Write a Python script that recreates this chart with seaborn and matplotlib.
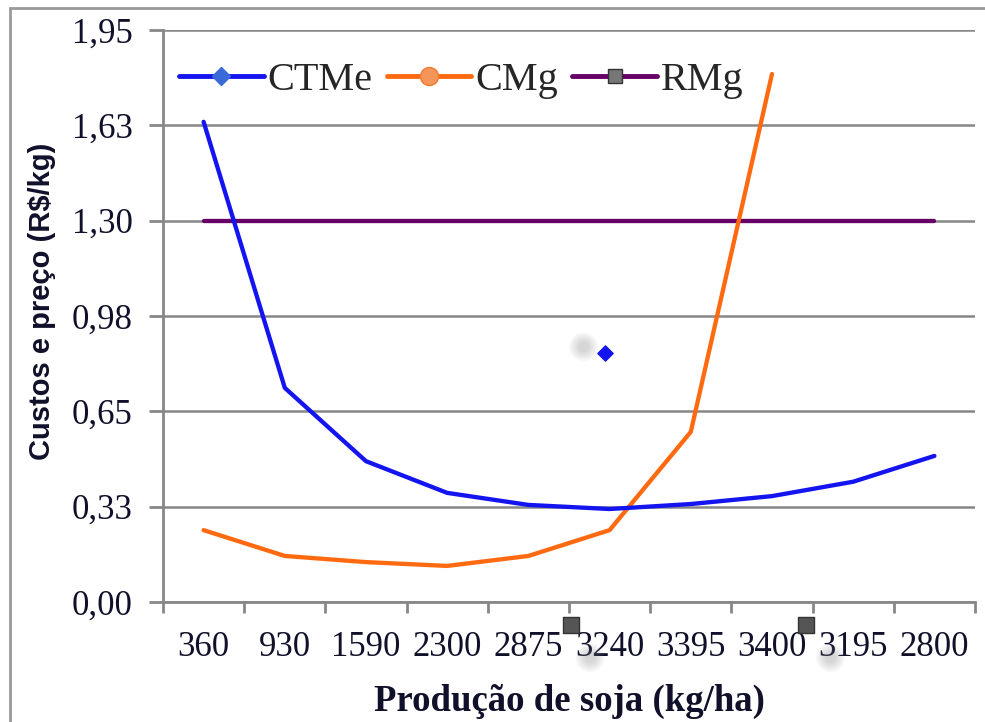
import numpy as np
import pandas as pd
import matplotlib
matplotlib.use("Agg")
import matplotlib.pyplot as plt
import seaborn as sns
from matplotlib.lines import Line2D
from matplotlib.patches import Rectangle

categories = ["360", "930", "1590", "2300", "2875", "3240", "3395", "3400", "3195", "2800"]
ctme = [1.637, 0.73, 0.48, 0.372, 0.331, 0.317, 0.334, 0.361, 0.41, 0.498]
cmg = [0.245, 0.157, 0.136, 0.123, 0.157, 0.245, 0.58, 1.80]
rmg = [1.30] * 10
ytick_vals = [0.0, 0.325, 0.65, 0.975, 1.30, 1.625, 1.95]
ytick_labels = ["0,00", "0,33", "0,65", "0,98", "1,30", "1,63", "1,95"]
# stray marker artefacts in the original image
stray_diamond_x = [4.94]
stray_diamond_y = [0.85]
stray_square_x = [4.52, 7.42]
stray_square_y = [-0.078, -0.078]
stray_blur_x = [4.68, 4.76, 7.72]
stray_blur_y = [0.87, -0.19, -0.19]

sns.set_theme(style="white")
plt.rcParams['font.family'] = ['Liberation Serif', 'DejaVu Serif']

c_blue = "#1414F0"
c_orange = "#FF6A10"
c_purple = "#660066"
grey = "#878787"
txt = "#10102a"

fig = plt.figure(figsize=(9.85, 7.22), dpi=100)
ax = fig.add_axes([163/985, 1-602/722, (975-163)/985, (602-30)/722])

df = pd.concat([
    pd.DataFrame({"x": np.arange(len(ctme)), "y": ctme, "s": "CTMe"}),
    pd.DataFrame({"x": np.arange(len(cmg)), "y": cmg, "s": "CMg"}),
    pd.DataFrame({"x": np.arange(len(rmg)), "y": rmg, "s": "RMg"}),
])
palette = {"CTMe": c_blue, "CMg": c_orange, "RMg": c_purple}
for s in ["RMg", "CMg", "CTMe"]:
    sns.lineplot(data=df[df.s == s], x="x", y="y", color=palette[s], lw=3.1,
                 ax=ax, legend=False, sort=False, zorder=3)

# soft blurred shadows (layered faint circles)
for size in [420, 300, 200, 120, 60]:
    ax.scatter(stray_blur_x, stray_blur_y, marker="o", s=size, color="#808080", alpha=0.07,
               edgecolor="none", zorder=2, clip_on=False)
ax.scatter(stray_diamond_x, stray_diamond_y, marker="D", s=60, color=c_blue, zorder=4)
ax.scatter(stray_square_x, stray_square_y, marker="s", s=130, color="#555555",
           edgecolor="#333333", zorder=4, clip_on=False)

ax.set_xlim(-0.5, len(categories) - 0.5)
ax.set_ylim(0, 1.95)
ax.set_yticks(ytick_vals)
ax.set_yticklabels(ytick_labels, fontsize=25, color=txt)
ax.set_xticks(np.arange(-0.5, len(categories)))
ax.set_xticklabels([])
ax.set_xticks(np.arange(len(categories)), minor=True)
ax.set_xticklabels(categories, minor=True, fontsize=25, color=txt)
ax.tick_params(axis="x", which="major", direction="out", length=8, width=2, color=grey, bottom=True)
ax.tick_params(axis="x", which="minor", length=0, pad=21, bottom=True)
ax.tick_params(axis="y", direction="out", length=10, width=2, color=grey, left=True, pad=12)

ax.grid(axis="y", color=grey, lw=1.8)
ax.grid(axis="x", visible=False)
ax.set_axisbelow(True)
for side in ["top", "right"]:
    ax.spines[side].set_visible(False)
for side in ["left", "bottom"]:
    ax.spines[side].set_color(grey)
    ax.spines[side].set_linewidth(2)

ax.set_xlabel("Produção de soja (kg/ha)", fontsize=26.5, fontweight="bold", color=txt, labelpad=14)
ax.set_ylabel("Custos e preço (R$/kg)", fontsize=21, fontweight="bold", color=txt,
              family=['Liberation Sans', 'DejaVu Sans'])
ax.yaxis.set_label_coords(-0.132, 0.526)

handles = [
    Line2D([], [], color=c_blue, lw=3.5, marker="D", markersize=9, markerfacecolor="#3a6ad8",
           markeredgecolor="#3a6ad8"),
    Line2D([], [], color=c_orange, lw=3.5, marker="o", markersize=13, markerfacecolor="#F4955A",
           markeredgecolor="#F07A30"),
    Line2D([], [], color=c_purple, lw=3.5, marker="s", markersize=10, markerfacecolor="#777777",
           markeredgecolor="#333333"),
]
ax.legend(handles, ["CTMe", "CMg", "RMg"], loc="upper left", ncol=3, frameon=False,
          fontsize=29, handlelength=2.1, handletextpad=0.1, columnspacing=0.35,
          bbox_to_anchor=(0.0, 0.972), borderaxespad=0.0)

fig.add_artist(Rectangle((10/985, -0.1), 1.2, 1 - 8/722 + 0.1, transform=fig.transFigure,
                         fill=False, edgecolor="#999999", lw=2))

fig.savefig("out.png", dpi=100)
